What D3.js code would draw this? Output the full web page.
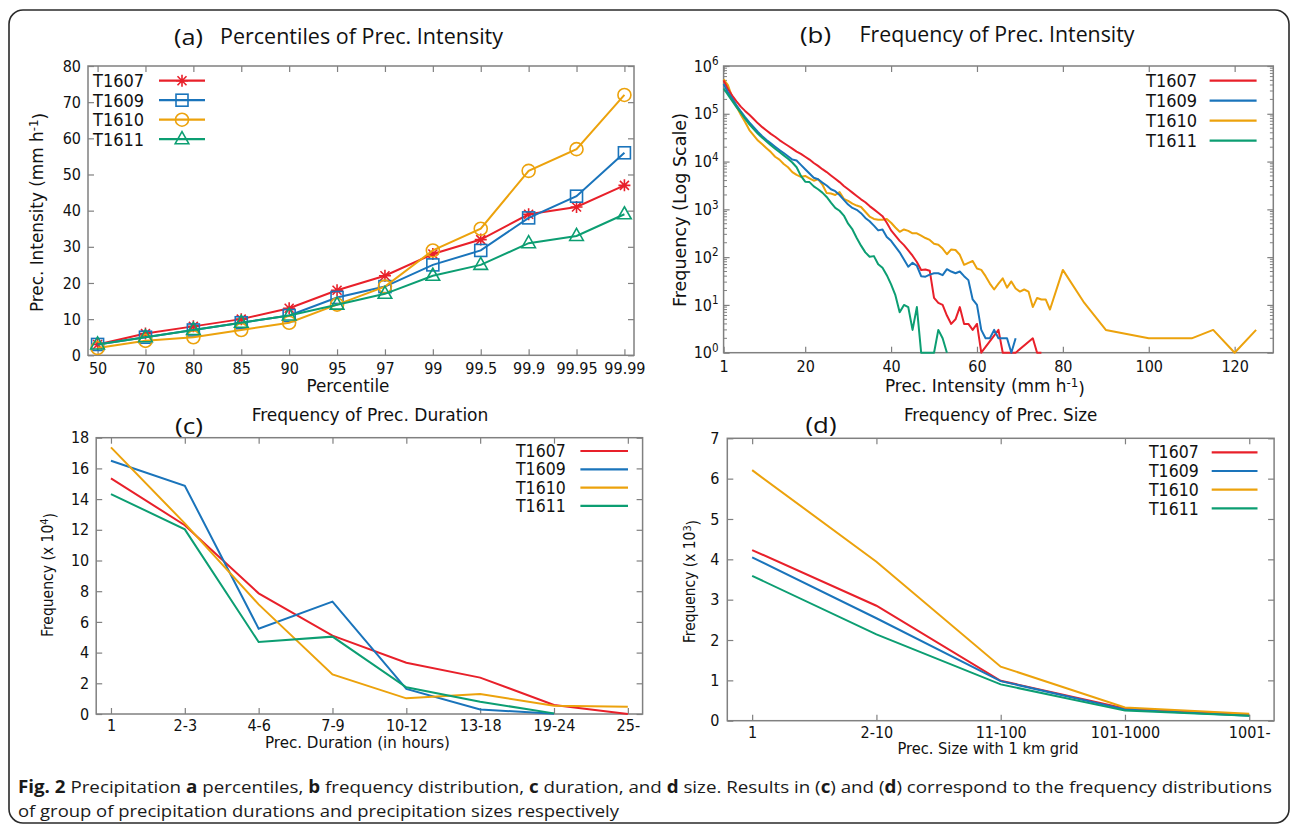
<!DOCTYPE html>
<html><head><meta charset="utf-8">
<script src="https://cdn.jsdelivr.net/npm/d3@7"></script>
<style>body{margin:0;background:#fff}svg{display:block}</style>
</head><body>
<svg id="c" width="1292" height="826"></svg>
<script>
// ---------------- DATA ----------------
const seriesNames = ["T1607", "T1609", "T1610", "T1611"];

// (a) percentiles of precipitation intensity
const percentiles = ["50","70","80","85","90","95","97","99","99.5","99.9","99.95","99.99"];
const pctT1607 = [3, 6, 8, 10, 13, 18, 22, 28, 32, 39, 41, 47];
const pctT1609 = [3, 5, 7, 9, 11, 16, 19, 25, 29, 38, 44, 56];
const pctT1610 = [2, 4, 5, 7, 9, 14, 19, 29, 35, 51, 57, 72];
const pctT1611 = [3, 5, 7, 9, 11, 14, 17, 22, 25, 31, 33, 39];

// (b) frequency of precipitation intensity (log scale)
const intT1607 = [1,2,3,4,5,6,7,8,9,10,11,12,13,14,15,16,17,18,19,20,21,22,23,24,25,26,27,28,29,30,31,32,33,34,35,36,37,38,39,40,41,42,43,44,45,46,47,48,49,50,51,52,53,54,55,56,57,58,59,60,61,65,66,67,68,69,73,74,75];
const freqT1607 = [500000,331000,240000,182000,141000,115000,95500,77600,63100,52500,
  44700,38000,33100,28200,24500,21400,18600,16200,14500,12600,
  11000,9330,8130,6920,6030,5130,4370,3720,3090,2630,
  2240,1910,1620,1410,1170,1000,850,720,525,363,
  282,219,178,138,107,79,54,55,52,14,
  11,10,6,4,5,9,4,4,3,4,
  1,3,1,1,1,1,2,1,1];
const intT1609 = [1,2,3,4,5,6,7,8,9,10,11,12,13,14,15,16,17,18,19,20,21,22,23,24,25,26,27,28,29,30,31,32,33,34,35,36,37,38,39,40,41,42,43,44,45,46,47,48,49,50,51,52,53,54,55,56,57,58,59,60,61,62,63,64,65,66,67,68,69];
const freqT1609 = [417000,282000,209000,151000,112000,85100,66100,52500,41700,33900,
  28200,24000,20400,17400,15100,12900,11000,10500,8510,6920,
  5620,4570,4270,3630,3160,2630,2400,2000,1580,1260,
  1070,977,832,661,562,457,363,380,263,219,
  166,126,89,63,76,66,40,39,43,46,
  46,42,56,50,46,50,40,33,13,10,
  3,2,2,3,2,2,2,1,2];
const intT1610 = [1,2,3,4,5,6,7,8,9,10,11,12,13,14,15,16,17,18,19,20,21,22,23,24,25,26,27,28,29,30,31,32,33,34,35,36,37,38,39,40,41,42,43,44,45,46,47,48,49,50,51,52,53,54,55,56,57,58,59,60,61,62,63,64,65,66,67,68,69,70,71,72,73,74,75,76,77,80,85,90,100,110,115,120,125];
const freqT1610 = [525000,398000,224000,141000,95500,67600,45700,35500,27500,22900,
  19100,15800,12600,11000,8910,7590,6030,5250,4790,5010,
  4470,3980,4270,3310,2190,2140,2000,2290,1660,1510,
  1320,1200,1120,891,708,631,603,603,631,525,
  417,339,380,355,316,316,282,251,229,191,
  182,151,115,145,141,112,69,76,83,58,
  54,40,28,21,28,36,23,31,22,19,
  21,19,9,14,13,13,8,
  54,11,3,2,2,3,1,3];
const intT1611 = [1,2,3,4,5,6,7,8,9,10,11,12,13,14,15,16,17,18,19,20,21,22,23,24,25,26,27,28,29,30,31,32,33,34,35,36,37,38,39,40,41,42,43,44,45,46,47,48,49,50,51,52,53];
const freqT1611 = [339000,251000,186000,138000,105000,79400,60300,47900,38000,31600,
  26300,21900,18600,15800,13500,11500,9550,7590,5010,3800,
  3720,3020,2630,2240,1820,1380,1070,933,741,501,
  380,251,174,126,102,105,71,60,42,27,
  16,7,10,9,3,9,1,1,1,1,
  3,2,1];
const intensityTicks = [1, 20, 40, 60, 80, 100, 120];
const logTicks = [1, 10, 100, 1000, 10000, 100000, 1000000];

// (c) frequency of precipitation duration (x 10^4)
const durations = ["1","2-3","4-6","7-9","10-12","13-18","19-24","25-"];
const durT1607 = [15.35, 12.3, 7.86, 5.1, 3.34, 2.37, 0.59, 0];
const durT1609 = [16.5, 14.87, 5.56, 7.32, 1.63, 0.3, 0.02, null];
const durT1610 = [17.37, 12.42, 7.14, 2.58, 1.02, 1.3, 0.54, 0.48];
const durT1611 = [14.33, 12.03, 4.69, 5.04, 1.74, 0.8, 0.04, null];
const durTicks = [0,2,4,6,8,10,12,14,16,18];

// (d) frequency of precipitation size (x 10^3)
const sizes = ["1","2-10","11-100","101-1000","1001-"];
const sizeT1607 = [4.23, 2.85, 0.99, 0.30, 0.14];
const sizeT1609 = [4.05, 2.54, 0.98, 0.28, 0.12];
const sizeT1610 = [6.21, 3.94, 1.34, 0.33, 0.17];
const sizeT1611 = [3.59, 2.14, 0.90, 0.25, 0.12];
const sizeTicks = [0,1,2,3,4,5,6,7];
const pctTicks = [0,10,20,30,40,50,60,70,80];

// ---------------- STYLE ----------------
const COLORS = {T1607:"#e8202a", T1609:"#1a74bb", T1610:"#eca20c", T1611:"#0c9e72"};
const MARKERS = {T1607:"asterisk", T1609:"square", T1610:"circle", T1611:"triangle"};
const FONT = "'DejaVu Sans Condensed','DejaVu Sans',sans-serif";
const TFONT = "'Open Sans','Noto Sans',sans-serif";
const GRAY = "#808080";

const svg = d3.select("#c");

svg.append("rect").attr("x",9).attr("y",10).attr("width",1280).attr("height",813)
  .attr("rx",14).attr("fill","none").attr("stroke","#2a2a2a").attr("stroke-width",1.6);

function axes(x, y, o) {
  const [xl, xr] = x.range(), [yb, yt] = y.range();
  const bottom = d3.axisBottom(x).tickSizeInner(-6).tickSizeOuter(0).tickPadding(o.xPad);
  const top = d3.axisTop(x).tickSizeInner(-6).tickSizeOuter(0).tickFormat("");
  if (o.xVals) { bottom.tickValues(o.xVals); top.tickValues(o.xVals); }
  const left = d3.axisLeft(y).tickValues(o.yVals).tickSizeInner(-6).tickSizeOuter(0).tickPadding(o.yPad);
  if (o.yFmt) left.tickFormat(o.yFmt);
  const right = d3.axisRight(y).tickValues(o.yVals).tickSizeInner(-6).tickSizeOuter(0).tickFormat("");
  svg.append("rect").attr("x",xl).attr("y",yt).attr("width",xr-xl).attr("height",yb-yt)
    .attr("fill","none").attr("stroke",GRAY).attr("stroke-width",1.5);
  const gb = svg.append("g").attr("transform",`translate(0,${yb})`).call(bottom);
  const gt = svg.append("g").attr("transform",`translate(0,${yt})`).call(top);
  const gl = svg.append("g").attr("transform",`translate(${xl},0)`).call(left);
  const gr = svg.append("g").attr("transform",`translate(${xr},0)`).call(right);
  [gb,gt,gl,gr].forEach(g => {
    g.select(".domain").remove();
    g.attr("font-family",FONT).attr("font-size",o.fs);
    g.selectAll(".tick line").attr("stroke",GRAY).attr("stroke-width",1.2);
    g.selectAll(".tick text").attr("fill","#111");
  });
  return {gb, gl};
}

function label(x, y, txt, len, fs, rot, sup, after) {
  const t = svg.append("text").attr("font-family",FONT).attr("font-size",fs).attr("fill","#111")
    .attr("text-anchor","middle")
    .attr("transform",`translate(${x},${y})` + (rot ? " rotate(-90)" : ""))
    .attr("dy","0.35em");
  t.append("tspan").text(txt);
  if (sup) {
    t.append("tspan").attr("dy","-0.45em").attr("font-size",fs*0.7).text(sup);
    t.append("tspan").attr("dy","0.45em").text(after);
  }
  if (len) t.attr("textLength",len).attr("lengthAdjust","spacingAndGlyphs");
  return t;
}
function title(x, y, txt, len, fs, fam) {
  svg.append("text").attr("x",x).attr("y",y).attr("dy","0.35em").attr("font-family",fam)
    .attr("font-size",fs).attr("fill","#111").attr("textLength",len)
    .attr("lengthAdjust","spacingAndGlyphs").text(txt);
}

function marker(g, type, cx, cy, color) {
  const s = g.append("g").attr("transform",`translate(${cx},${cy})`)
    .attr("fill","none").attr("stroke",color).attr("stroke-width",1.6);
  if (type === "asterisk") {
    s.append("path").attr("d","M-6,0H6M0,-6V6M-4.5,-4.5L4.5,4.5M-4.5,4.5L4.5,-4.5");
  } else if (type === "square") {
    s.append("rect").attr("x",-6).attr("y",-6).attr("width",12).attr("height",12);
  } else if (type === "circle") {
    s.append("circle").attr("r",6.5);
  } else {
    s.append("path").attr("d","M0,-7.5L6.8,4.5L-6.8,4.5Z");
  }
}

function legend(x0, lx1, lx2, y0, dy, fs, withMarker) {
  seriesNames.forEach((n, i) => {
    const y = y0 + i*dy;
    svg.append("text").attr("x",x0).attr("y",y).attr("dy","0.35em").attr("font-family",FONT)
      .attr("font-size",fs).attr("fill","#111").text(n);
    svg.append("line").attr("x1",lx1).attr("x2",lx2).attr("y1",y).attr("y2",y)
      .attr("stroke",COLORS[n]).attr("stroke-width",2.2);
    if (withMarker) marker(svg, MARKERS[n], (lx1+lx2)/2, y, COLORS[n]);
  });
}

// ---------------- PANEL (a) ----------------
const xA = d3.scalePoint().domain(percentiles).range([88, 634]).padding(0.2);
const yA = d3.scaleLinear().domain([0, 80]).range([355.3, 66]);
axes(xA, yA, {yVals: pctTicks, xPad: 7, yPad: 7, fs: 16});
const pctData = {T1607: pctT1607, T1609: pctT1609, T1610: pctT1610, T1611: pctT1611};
seriesNames.forEach(n => {
  const pts = percentiles.map((p, i) => ({p, v: pctData[n][i]}));
  svg.append("path").datum(pts).attr("fill","none").attr("stroke",COLORS[n]).attr("stroke-width",2)
    .attr("d", d3.line().x(d => xA(d.p)).y(d => yA(d.v)));
  const g = svg.append("g");
  pts.forEach(d => marker(g, MARKERS[n], xA(d.p), yA(d.v), COLORS[n]));
});
legend(93, 159, 205, 80.7, 19.5, 18, true);
title(174, 37, "(a)", 29, 22, TFONT);
title(220, 37, "Percentiles of Prec. Intensity", 283, 21, TFONT);
label(348, 386, "Percentile", 83, 17.5);
label(37, 212.5, "Prec. Intensity (mm h", 199, 18, true, "-1", ")");

// ---------------- PANEL (b) ----------------
const xB = d3.scaleLinear().domain([1, 129]).range([723.6, 1273.3]);
const yB = d3.scaleLog().domain([1, 1e6]).range([352.7, 66]);
const axB = axes(xB, yB, {xVals: intensityTicks, yVals: logTicks, xPad: 8, yPad: 5, fs: 16,
  yFmt: () => ""});
axB.gl.selectAll(".tick text").each(function(d) {
  const t = d3.select(this);
  t.append("tspan").text("10");
  t.append("tspan").attr("dy","-0.55em").attr("font-size",11.5).text(Math.round(Math.log10(d)));
});
for (let k = 0; k < 6; k++) for (let m = 2; m <= 9; m++) {
  const yy = yB(m * Math.pow(10, k));
  svg.append("line").attr("x1",723.6).attr("x2",727).attr("y1",yy).attr("y2",yy).attr("stroke",GRAY);
  svg.append("line").attr("x1",1269.9).attr("x2",1273.3).attr("y1",yy).attr("y2",yy).attr("stroke",GRAY);
}
const freqData = {
  T1607: [intT1607, freqT1607], T1609: [intT1609, freqT1609],
  T1610: [intT1610, freqT1610], T1611: [intT1611, freqT1611]};
["T1610","T1607","T1609","T1611"].forEach(n => {
  const [xs, fs] = freqData[n];
  const pts = xs.map((v, i) => ({v, f: fs[i]}));
  svg.append("path").datum(pts).attr("fill","none").attr("stroke",COLORS[n]).attr("stroke-width",2)
    .attr("stroke-linejoin","round")
    .attr("d", d3.line().x(d => xB(d.v)).y(d => yB(d.f)));
});
legend(1146, 1209.6, 1256.6, 80.7, 20, 18, false);
title(800, 35, "(b)", 31, 22, TFONT);
title(859.5, 35, "Frequency of Prec. Intensity", 275, 21, TFONT);
label(985, 386, "Prec. Intensity (mm h", 200, 17.5, false, "-1", ")");
label(679.5, 210, "Frequency (Log Scale)", 194, 18, true);

// ---------------- PANEL (c) ----------------
const xC = d3.scalePoint().domain(durations).range([96.2, 642.6]).padding(0.2);
const yC = d3.scaleLinear().domain([0, 18]).range([714, 437.7]);
axes(xC, yC, {yVals: durTicks, xPad: 5.5, yPad: 7, fs: 16});
const durData = {T1607: durT1607, T1609: durT1609, T1610: durT1610, T1611: durT1611};
seriesNames.forEach(n => {
  const pts = durations.map((c, i) => ({c, v: durData[n][i]}));
  svg.append("path").datum(pts).attr("fill","none").attr("stroke",COLORS[n]).attr("stroke-width",2)
    .attr("d", d3.line().defined(d => d.v != null).x(d => xC(d.c)).y(d => yC(d.v)));
});
legend(516, 580.4, 628, 451, 18.3, 17.5, false);
title(175, 426, "(c)", 28, 22, TFONT);
title(251.7, 414.3, "Frequency of Prec. Duration", 236.7, 18, FONT);
label(357.5, 742.5, "Prec. Duration (in hours)", 185, 16);
label(47.7, 575, "Frequency (x 10", 124, 15.5, true, "4", ")");

// ---------------- PANEL (d) ----------------
const xD = d3.scalePoint().domain(sizes).range([727.3, 1274.1]).padding(0.2);
const yD = d3.scaleLinear().domain([0, 7]).range([720.7, 438.3]);
axes(xD, yD, {yVals: sizeTicks, yFmt: d3.format("d"), xPad: 6, yPad: 8, fs: 16});
const sizeData = {T1607: sizeT1607, T1609: sizeT1609, T1610: sizeT1610, T1611: sizeT1611};
seriesNames.forEach(n => {
  const pts = sizes.map((c, i) => ({c, v: sizeData[n][i]}));
  svg.append("path").datum(pts).attr("fill","none").attr("stroke",COLORS[n]).attr("stroke-width",2)
    .attr("d", d3.line().x(d => xD(d.c)).y(d => yD(d.v)));
});
legend(1149, 1211.7, 1257.5, 452.3, 18.7, 17.5, false);
title(805.5, 425, "(d)", 31, 22, TFONT);
title(904, 415, "Frequency of Prec. Size", 193.4, 18, FONT);
label(988, 748.5, "Prec. Size with 1 km grid", 181, 15.5);
label(690, 581.5, "Frequency (x 10", 123, 15.5, true, "3", ")");

// ---------------- CAPTION ----------------
const cap1 = svg.append("text").attr("x",18).attr("y",793).attr("font-family",TFONT)
  .attr("font-size",17).attr("fill","#1a1a1a").attr("textLength",1254).attr("lengthAdjust","spacingAndGlyphs");
[["Fig. 2",1],[" Precipitation ",0],["a",1],[" percentiles, ",0],["b",1],[" frequency distribution, ",0],
 ["c",1],[" duration, and ",0],["d",1],[" size. Results in (",0],["c",1],[") and (",0],["d",1],
 [") correspond to the frequency distributions",0]].forEach(([t,b]) =>
  cap1.append("tspan").attr("font-weight", b ? "bold" : "normal").text(t));
svg.append("text").attr("x",18).attr("y",817).attr("font-family",TFONT).attr("font-size",17)
  .attr("fill","#1a1a1a").attr("textLength",601).attr("lengthAdjust","spacingAndGlyphs")
  .text("of group of precipitation durations and precipitation sizes respectively");
</script>
</body></html>
